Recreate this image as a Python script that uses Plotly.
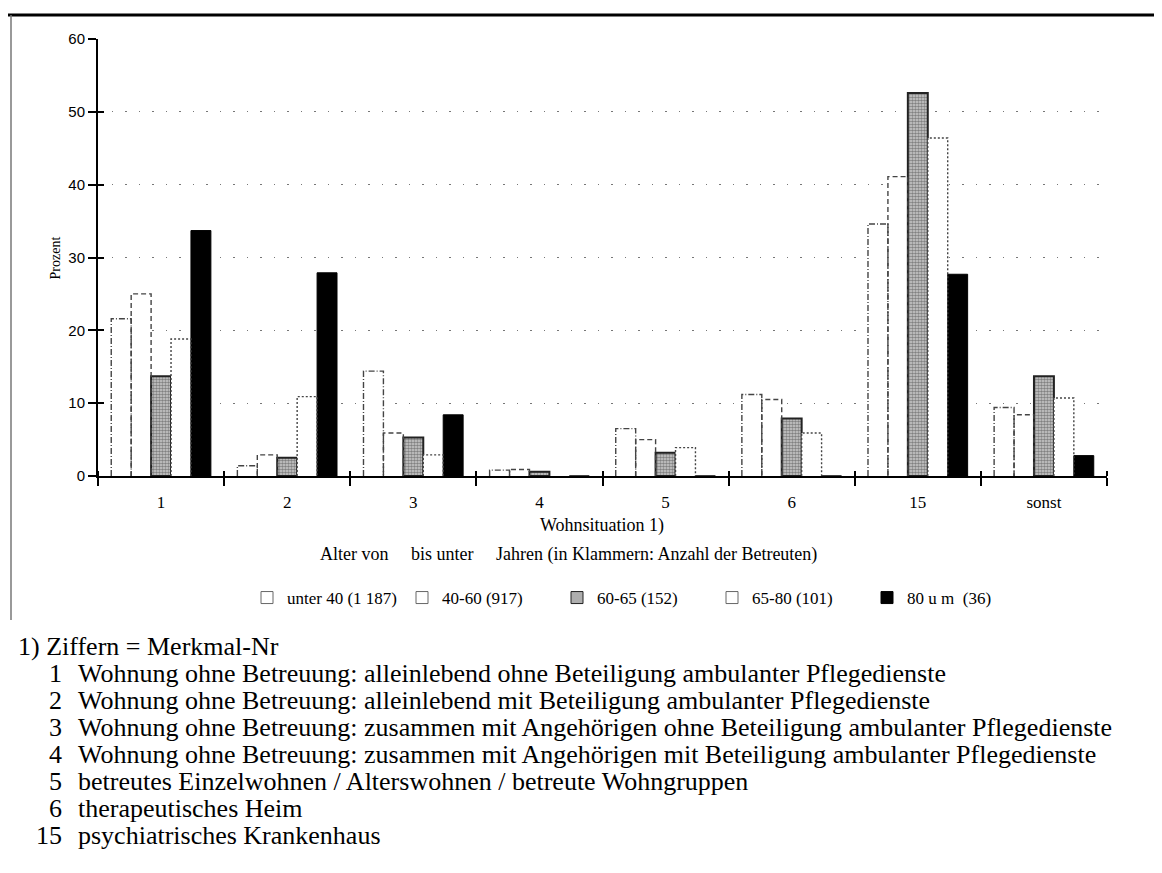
import plotly.graph_objects as go

# ---------------- data ----------------
categories = ["1", "2", "3", "4", "5", "6", "15", "sonst"]
series_names = ["unter 40 (1 187)", "40-60 (917)", "60-65 (152)", "65-80 (101)", "80 u m  (36)"]
unter40 = [21.6, 1.4, 14.4, 0.8, 6.5, 11.2, 34.6, 9.4]
alter40_60 = [25.0, 2.9, 5.9, 0.9, 5.0, 10.5, 41.1, 8.4]
alter60_65 = [13.7, 2.5, 5.3, 0.6, 3.2, 7.9, 52.6, 13.7]
alter65_80 = [18.8, 10.9, 2.9, 0.0, 3.9, 5.9, 46.4, 10.7]
alter80 = [33.7, 27.9, 8.4, 0.0, 0.0, 0.0, 27.7, 2.8]
y_ticks = [0, 10, 20, 30, 40, 50, 60]

footnote_title = "1) Ziffern = Merkmal-Nr"
footnote_nums = ["1", "2", "3", "4", "5", "6", "15"]
footnote_texts = [
    "Wohnung ohne Betreuung: alleinlebend ohne Beteiligung ambulanter Pflegedienste",
    "Wohnung ohne Betreuung: alleinlebend mit Beteiligung ambulanter Pflegedienste",
    "Wohnung ohne Betreuung: zusammen mit Angehörigen ohne Beteiligung ambulanter Pflegedienste",
    "Wohnung ohne Betreuung: zusammen mit Angehörigen mit Beteiligung ambulanter Pflegedienste",
    "betreutes Einzelwohnen / Alterswohnen / betreute Wohngruppen",
    "therapeutisches Heim",
    "psychiatrisches Krankenhaus",
]

all_series = [unter40, alter40_60, alter60_65, alter65_80, alter80]

# ---------------- layout constants ----------------
W, H = 1162, 873
L, R, T, B = 90, 1099, 31, 468
PW, PH = R - L, B - T

def px_x(p):
    return (p - L) / PW

def px_y(p):
    return (B - p) / PH

SERIF = "Liberation Serif"
SANS = "Liberation Sans"

bar_w = 0.158
offsets = [-0.395 + i * bar_w for i in range(5)]

outline_dash = ["6px,2px,1px,2px", "5px,3px", None, "2px,2px", None]
pattern_60_65 = dict(shape=".", fgcolor="#333", bgcolor="#cfcfcf", size=3, solidity=0.6)

fig = go.Figure()
xs = list(range(len(categories)))

for i, vals in enumerate(all_series):
    if i == 2:
        marker = dict(color="#aaaaaa", pattern=pattern_60_65,
                      line=dict(color="#222", width=2))
    elif i == 4:
        marker = dict(color="black", line=dict(color="black", width=1))
    else:
        marker = dict(color="white", line=dict(width=0))
    fig.add_trace(go.Bar(x=xs, y=vals, width=bar_w, offset=offsets[i],
                         marker=marker, showlegend=False, hoverinfo="skip"))
    # dashed outlines for white bars
    if outline_dash[i] is not None:
        ox, oy = [], []
        for j, v in enumerate(vals):
            if v <= 0:
                continue
            x0 = xs[j] + offsets[i]
            x1 = x0 + bar_w
            ox += [x0, x0, x1, x1, None]
            oy += [0, v, v, 0, None]
        fig.add_trace(go.Scatter(x=ox, y=oy, mode="lines",
                                 line=dict(color="#444", width=1.4, dash=outline_dash[i]),
                                 showlegend=False, hoverinfo="skip"))

# legend-only entries
for i, name in enumerate(series_names):
    if i == 2:
        mk = dict(color="#aaaaaa",
                  pattern=dict(shape=".", fgcolor="#333", bgcolor="#cfcfcf", size=2, solidity=0.5),
                  line=dict(color="#222", width=1))
    elif i == 4:
        mk = dict(color="black", line=dict(color="black", width=1))
    else:
        mk = dict(color="white", line=dict(color="#666", width=1))
    fig.add_trace(go.Bar(x=[None], y=[None], name=name, marker=mk, showlegend=True))

# invisible trace on overlay axes to draw the inner half of the crossing ticks
fig.add_trace(go.Scatter(x=[None], y=[None], xaxis="x2", yaxis="y2",
                         showlegend=False, hoverinfo="skip"))

annotations = [
    dict(text="Prozent", x=px_x(37), y=px_y(250), xref="paper", yref="paper",
         textangle=-90, showarrow=False, font=dict(family=SERIF, size=14, color="black")),
    dict(text="Wohnsituation 1)", x=px_x(594), y=px_y(530), xref="paper", yref="paper",
         showarrow=False, font=dict(family=SERIF, size=18, color="black")),
    dict(text="Alter von &nbsp;&nbsp;&nbsp; bis unter &nbsp;&nbsp;&nbsp; Jahren (in Klammern: Anzahl der Betreuten)",
         x=px_x(560), y=px_y(559), xref="paper", yref="paper",
         showarrow=False, font=dict(family=SERIF, size=18, color="black")),
    dict(text=footnote_title, x=px_x(8), y=px_y(655), xref="paper", yref="paper",
         xanchor="left", showarrow=False, font=dict(family=SERIF, size=26, color="black")),
]
line_y0, line_dy = 682, 27
for k, (num, txt) in enumerate(zip(footnote_nums, footnote_texts)):
    yy = px_y(line_y0 + k * line_dy)
    annotations.append(dict(text=num, x=px_x(56), y=yy, xref="paper", yref="paper",
                            xanchor="right", showarrow=False,
                            font=dict(family=SERIF, size=26, color="black")))
    annotations.append(dict(text=txt, x=px_x(68), y=yy, xref="paper", yref="paper",
                            xanchor="left", showarrow=False,
                            font=dict(family=SERIF, size=26, color="black")))

shapes = [
    dict(type="line", xref="paper", yref="paper", x0=px_x(0), x1=px_x(W), y0=px_y(7), y1=px_y(7),
         line=dict(color="black", width=3)),
    dict(type="line", xref="paper", yref="paper", x0=px_x(3), x1=px_x(3), y0=px_y(7), y1=px_y(612),
         line=dict(color="#777", width=1.5)),
]

fig.update_layout(
    width=W, height=H,
    margin=dict(l=L, r=W - R, t=T, b=H - B, autoexpand=False),
    paper_bgcolor="white", plot_bgcolor="white",
    barmode="overlay",
    showlegend=True,
    legend=dict(orientation="h", x=px_x(239), y=px_y(572), xanchor="left", yanchor="top",
                font=dict(family=SERIF, size=17, color="black"),
                entrywidth=110, entrywidthmode="pixels", itemwidth=30,
                bgcolor="rgba(0,0,0,0)"),
    xaxis=dict(range=[-0.5, 7.5], tickmode="array", tickvals=xs, ticktext=categories,
               showline=True, linecolor="black", linewidth=1.5, ticks="", showgrid=False,
               zeroline=False, ticklabelstandoff=10,
               tickfont=dict(family=SERIF, size=17, color="black"),
               minor=dict(tick0=0.5, dtick=1, ticks="outside", ticklen=8,
                          tickcolor="black", tickwidth=1.5, showgrid=False)),
    yaxis=dict(range=[0, 60], tickmode="array", tickvals=y_ticks,
               showline=True, linecolor="black", linewidth=2, ticks="outside", ticklen=8,
               tickwidth=1.5, tickcolor="black",
               showgrid=True, gridcolor="#777", gridwidth=1, griddash="1.5px,12px",
               zeroline=False,
               tickfont=dict(family=SANS, size=15, color="black")),
    xaxis2=dict(overlaying="x", range=[-0.5, 7.5], tickmode="array", tickvals=[],
                showline=False, showgrid=False, zeroline=False, showticklabels=False,
                minor=dict(tick0=0.5, dtick=1, ticks="inside", ticklen=5,
                           tickcolor="black", tickwidth=1.5, showgrid=False)),
    yaxis2=dict(overlaying="y", side="left", range=[0, 60], tickmode="array", tickvals=y_ticks,
                ticks="inside", ticklen=6, tickwidth=1.5, tickcolor="black",
                showline=False, showgrid=False, zeroline=False, showticklabels=False),
    annotations=annotations,
    shapes=shapes,
)

fig.write_html("out.html")
